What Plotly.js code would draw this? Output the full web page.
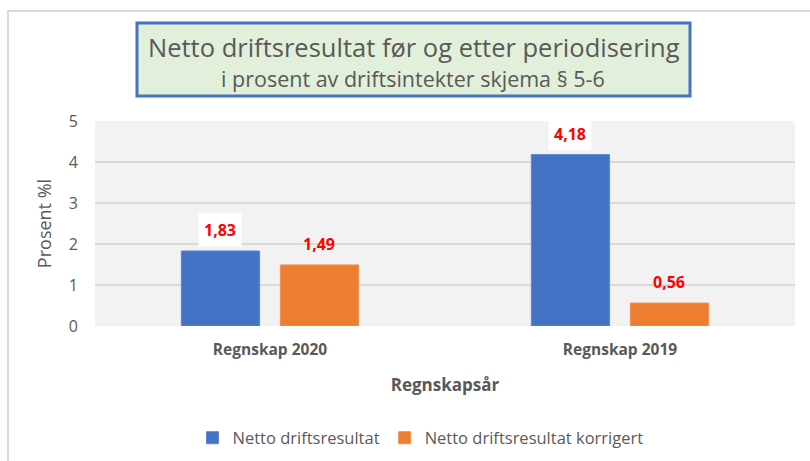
<!DOCTYPE html>
<html>
<head>
<meta charset="utf-8">
<script src="https://cdn.plot.ly/plotly-3.0.1.min.js"></script>
<style>
  html, body { margin: 0; padding: 0; background: #ffffff; }
  #frame { position: absolute; left: 7px; top: 10px; width: 830px; height: 480px; border: 2px solid #D9D9D9; box-sizing: border-box; }
  #chart { position: absolute; left: 0; top: 0; width: 810px; height: 461px; }
</style>
</head>
<body>
<div id="frame"></div>
<div id="chart"></div>
<script>
const categories = ['Regnskap 2020', 'Regnskap 2019'];
const seriesNames = ['Netto driftsresultat', 'Netto driftsresultat korrigert'];
const nettoDriftsresultat = [1.83, 4.18];
const nettoKorrigert = [1.49, 0.56];
const yTicks = [0, 1, 2, 3, 4, 5];

const FONT = 'Open Sans, Lato, sans-serif';
const GRAY = '#595959';

const traces = [
  { type: 'bar', name: seriesNames[0], x: categories, y: nettoDriftsresultat,
    marker: { color: '#4472C4', line: { color: '#5B86D0', width: 1 } }, hoverinfo: 'y' },
  { type: 'bar', name: seriesNames[1], x: categories, y: nettoKorrigert,
    marker: { color: '#ED7D31', line: { color: '#F09050', width: 1 } }, hoverinfo: 'y' }
];

function fmt(v) { return v.toFixed(2).replace('.', ','); }

const annotations = [];
const series = [nettoDriftsresultat, nettoKorrigert];
series.forEach((vals, si) => {
  vals.forEach((v, ci) => {
    annotations.push({
      xref: 'x', yref: 'y', x: categories[ci], y: v,
      xshift: si === 0 ? -50 : 49, yshift: 21,
      text: '<b>' + fmt(v) + '</b>', showarrow: false,
      font: { family: FONT, size: 16, color: '#FF0000' },
      bgcolor: si === 0 ? '#FFFFFF' : 'rgba(0,0,0,0)',
      borderpad: 5, yanchor: 'middle', xanchor: 'center'
    });
  });
});

// title box texts
annotations.push({
  xref: 'paper', yref: 'paper', x: (414 - 95) / 700, y: (326 - 47) / 205,
  text: 'Netto driftsresultat før og etter periodisering', showarrow: false,
  font: { family: FONT, size: 25.5, color: GRAY }, xanchor: 'center', yanchor: 'middle'
});
annotations.push({
  xref: 'paper', yref: 'paper', x: (413 - 95) / 700, y: (326 - 78) / 205,
  text: 'i prosent av driftsintekter skjema § 5-6', showarrow: false,
  font: { family: FONT, size: 21.5, color: GRAY }, xanchor: 'center', yanchor: 'middle'
});

const layout = {
  width: 810, height: 461,
  margin: { l: 95, r: 15, t: 121, b: 135, autoexpand: false },
  paper_bgcolor: 'rgba(0,0,0,0)',
  plot_bgcolor: '#F2F2F2',
  separators: ',.',
  barmode: 'group',
  bargap: 0.434,
  bargroupgap: 0.21,
  showlegend: true,
  legend: { orientation: 'h', x: 0.465, xanchor: 'center', yref: 'container', y: (461 - 438) / 461, yanchor: 'middle',
            font: { family: FONT, size: 16.5, color: GRAY }, itemwidth: 30, tracegroupgap: 0 },
  xaxis: {
    type: 'category', showgrid: false, zeroline: false, showline: false, ticks: '', automargin: false,
    tickfont: { family: FONT, size: 15.5, color: GRAY, weight: 'bold' },
    ticklabelstandoff: 12,
    title: { text: '<b>Regnskapsår</b>', font: { family: FONT, size: 17, color: GRAY }, standoff: 20 }
  },
  yaxis: {
    range: [0, 5], tickvals: yTicks, ticktext: yTicks.map(String), automargin: false,
    showgrid: true, gridcolor: '#D9D9D9', gridwidth: 1.5, zeroline: false, showline: false, ticks: '',
    tickfont: { family: FONT, size: 16, color: GRAY }, ticklabelstandoff: 16,
    title: { text: 'Prosent %l', font: { family: FONT, size: 18, color: GRAY }, standoff: 12 }
  },
  shapes: [
    { type: 'rect', xref: 'paper', yref: 'paper',
      x0: (137 - 95) / 700, x1: (690 - 95) / 700, y0: (326 - 96) / 205, y1: (326 - 23) / 205,
      fillcolor: '#E2EFDA', line: { color: '#4472C4', width: 3 }, layer: 'above' }
  ],
  annotations: annotations
};

Plotly.newPlot('chart', traces, layout, { displayModeBar: false, staticPlot: true });
</script>
</body>
</html>
